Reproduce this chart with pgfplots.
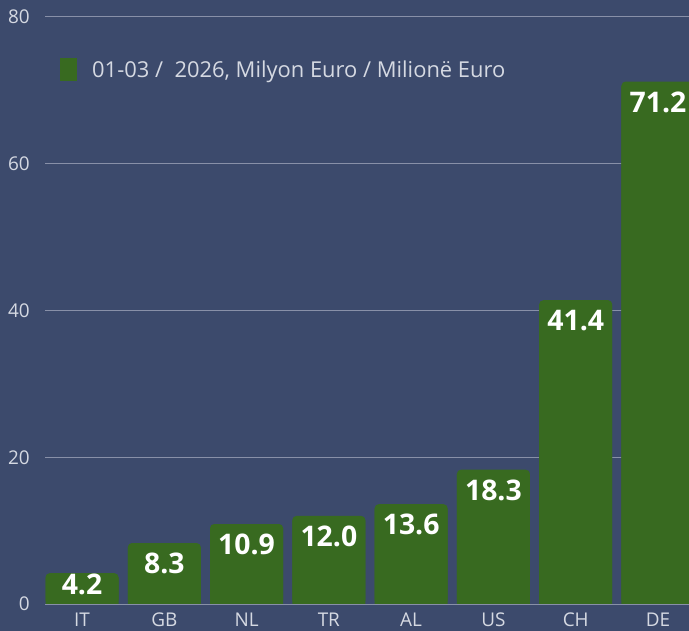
\documentclass[border=0pt]{standalone}
\usepackage{fontspec}
\setmainfont{Open Sans}
\usepackage{pgfplots}
\pgfplotsset{compat=1.18}
\definecolor{bg}{HTML}{3C4A6C}
\definecolor{barc}{HTML}{386A20}
\definecolor{gridc}{HTML}{8890A8}
\definecolor{tickc}{HTML}{D5D9E2}
\begin{document}
\begin{tikzpicture}
\clip (-45bp,-27bp) rectangle (644bp,604bp);
\fill[bg] (-45bp,-27bp) rectangle (644bp,604bp);
\begin{axis}[
  at={(0,0)}, anchor=south west,
  scale only axis, width=644bp, height=587bp,
  xmin=-0.45, xmax=7.377, ymin=0, ymax=80,
  ybar, bar width=0.887, bar shift=0pt,
  ytick={0,20,40,60,80},
  xtick={0,1,2,3,4,5,6,7},
  xticklabels={IT,GB,NL,TR,AL,US,CH,DE},
  /pgf/number format/assume math mode=true,
  ymajorgrids, grid style={gridc, line width=1bp},
  axis line style={draw=none},
  major tick length=0pt,
  tick label style={font=\fontsize{19}{22}\selectfont, text=tickc},
  yticklabel style={anchor=east, inner sep=0pt, xshift=-15bp},
  xticklabel style={anchor=north, inner sep=0pt, yshift=-9bp},
  legend style={at={(rel axis cs:0,1)}, anchor=north west, draw=none, fill=none,
    text=tickc, font=\fontsize{22}{26}\selectfont, inner sep=0pt,
    xshift=15bp, yshift=-41bp,
    /tikz/every odd column/.append style={column sep=13bp}},
  legend image code/.code={\fill[barc, sharp corners] (0bp,-11.5bp) rectangle (17bp,11.5bp);},
  nodes near coords={\pgfmathprintnumber[fixed,fixed zerofill,precision=1,assume math mode=true]{\pgfplotspointmeta}},
  nodes near coords style={font=\bfseries\fontsize{28.5}{32}\selectfont, text=white, anchor=north, inner sep=1bp, yshift=-9bp},
]
% main bars (rounded tops)
\addplot[fill=barc, draw=none, rounded corners=4bp] coordinates {(1,8.3) (2,10.9) (3,12.0) (4,13.6) (5,18.3) (6,41.4) (7,71.2)};
\addlegendentry{01-03 /\ \ 2026, Milyon Euro / Milionë Euro}
% IT: label pushed up inside the short bar
\addplot[fill=barc, draw=none, rounded corners=4bp, forget plot,
  nodes near coords style={yshift=9bp}] coordinates {(0,4.2)};
% square bottoms
\addplot[fill=barc, draw=none, forget plot, nodes near coords=] coordinates {(0,3.6) (1,7.7) (2,10.3) (3,11.4) (4,13.0) (5,17.7) (6,40.8) (7,70.6)};
\end{axis}
\end{tikzpicture}
\end{document}
